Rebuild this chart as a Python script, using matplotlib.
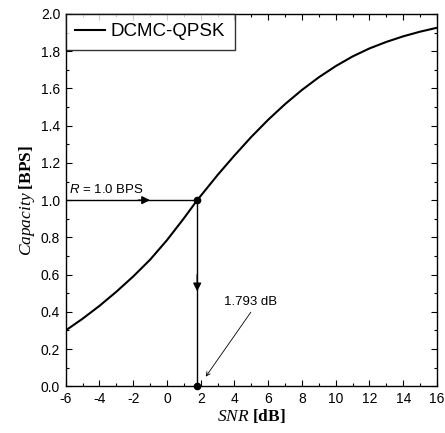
import matplotlib
matplotlib.use('Agg')
import matplotlib.pyplot as plt
from matplotlib.ticker import MultipleLocator

# DCMC-QPSK capacity
snr_db = [-6, -5, -4, -3, -2, -1, 0, 1, 1.793, 2, 3, 4, 5, 6, 7, 8, 9, 10, 11, 12, 13, 14, 15, 16]
capacity = [0.30, 0.363, 0.432, 0.508, 0.590, 0.680, 0.785, 0.902, 1.00, 1.023, 1.135, 1.24, 1.34,
            1.432, 1.516, 1.592, 1.66, 1.72, 1.772, 1.815, 1.850, 1.880, 1.905, 1.926]

rate = 1.0
snr_at_rate = 1.793
x_ticks = [-6, -4, -2, 0, 2, 4, 6, 8, 10, 12, 14, 16]
y_ticks = [0.0, 0.2, 0.4, 0.6, 0.8, 1.0, 1.2, 1.4, 1.6, 1.8, 2.0]

plt.rcParams['font.family'] = ['Liberation Sans', 'DejaVu Sans']
plt.rcParams['mathtext.fontset'] = 'custom'
plt.rcParams['mathtext.rm'] = 'Liberation Serif'
plt.rcParams['mathtext.it'] = 'Liberation Serif:italic'
plt.rcParams['mathtext.bf'] = 'Liberation Serif:bold'
plt.rcParams['mathtext.sf'] = 'Liberation Sans:italic'

fig = plt.figure(figsize=(4.45, 4.33), dpi=100)
ax = fig.add_axes([0.1476, 0.1078, 0.8344, 0.8599])

ax.plot(snr_db, capacity, color='black', lw=1.5, label='DCMC-QPSK')

# horizontal line at R with arrow head in the middle
ax.plot([-6, snr_at_rate], [rate, rate], color='black', lw=1.0)
ax.annotate('', xy=(-1.0, rate), xytext=(-1.7, rate),
            arrowprops=dict(arrowstyle='-|>', color='black', lw=1.0,
                            mutation_scale=12, shrinkA=0, shrinkB=0))
# vertical line down to the SNR axis
ax.plot([snr_at_rate, snr_at_rate], [rate, 0.0], color='black', lw=1.0)
ax.annotate('', xy=(snr_at_rate, 0.51), xytext=(snr_at_rate, 0.6),
            arrowprops=dict(arrowstyle='-|>', color='black', lw=1.0,
                            mutation_scale=12, shrinkA=0, shrinkB=0))
ax.plot([snr_at_rate, snr_at_rate], [rate, 0.0], 'o', color='black', ms=4.5, clip_on=False, zorder=5)

ax.text(-5.8, 1.037, r'$\mathsf{R}$ = 1.0 BPS', fontsize=9.5, ha='left', va='baseline')
ax.text(4.98, 0.453, '1.793 dB', fontsize=9.5, ha='center', va='center')
ax.annotate('', xy=(2.3, 0.052), xytext=(4.97, 0.398),
            arrowprops=dict(arrowstyle='->', color='black', lw=0.6,
                            mutation_scale=7, shrinkA=0, shrinkB=0))

ax.set_xlim(-6, 16)
ax.set_ylim(0, 2.0)
ax.set_xticks(x_ticks)
ax.set_yticks(y_ticks)
ax.set_xticklabels([str(t) for t in x_ticks])
ax.set_yticklabels(['%.1f' % t for t in y_ticks])
ax.xaxis.set_minor_locator(MultipleLocator(1))
ax.yaxis.set_minor_locator(MultipleLocator(0.1))
ax.tick_params(which='both', direction='in', top=True, right=True, labelsize=10, width=0.8)
ax.tick_params(which='major', length=4, pad=4)
ax.tick_params(which='minor', length=2)
for s in ax.spines.values():
    s.set_linewidth(1.0)

ax.set_xlabel(r'$\mathit{SNR}\ \mathbf{[dB]}$', fontsize=12.5, labelpad=1)
ax.set_ylabel(r'$\mathit{Capacity}\ \mathbf{[BPS]}$', fontsize=12.5, labelpad=3)

leg = ax.legend(loc='upper left', fontsize=13.5, frameon=True, fancybox=False,
                borderaxespad=0, handlelength=1.6, handletextpad=0.3, borderpad=0.5)
leg.get_frame().set_edgecolor('black')
leg.get_frame().set_linewidth(1.0)

fig.savefig('out.png', dpi=100)
